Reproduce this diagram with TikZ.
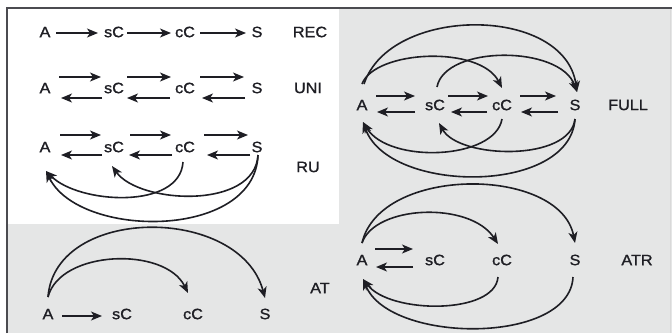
\documentclass[tikz,border=0pt]{standalone}
\usepackage{fontspec}
\setmainfont{Liberation Sans}[FakeStretch=1.08,FakeBold=1.2]
\usetikzlibrary{arrows.meta,calc}
\definecolor{bg}{RGB}{229,230,230}
\definecolor{ink}{RGB}{30,30,36}
\begin{document}
\begin{tikzpicture}[x=1pt,y=-1pt,
  lbl/.style={inner sep=0pt, text=ink, font=\fontsize{15}{17}\selectfont},
  arr/.style={draw=ink, line width=1.6pt, -{Stealth[length=11pt,width=9pt,inset=3pt]}}]
\useasboundingbox (0,0) rectangle (672,333);
\fill[bg] (7,8) rectangle (672,333);
\fill[white] (8,9) rectangle (339,224);
\draw[line width=2pt, ink!80] (7,333) -- (7,8) -- (672,8);
\draw[line width=0.6pt, white!85!black] (670,9) -- (670,333);

% ---------- REC ----------
\node[lbl] (recA)  at (45,32)  {A};
\node[lbl] (recsC) at (114,32) {sC};
\node[lbl] (reccC) at (185,32) {cC};
\node[lbl] (recS)  at (257,32) {S};
\node[lbl] (recL)  at (310,32) {REC};
\draw[arr] ($(recA)+(11,1)$) -- ($(recsC)+(-16,1)$);
\draw[arr] ($(recsC)+(13,1)$) -- ($(reccC)+(-14,1)$);
\draw[arr] ($(reccC)+(15,1)$) -- ($(recS)+(-11,1)$);

% ---------- UNI ----------
\node[lbl] (uniA)  at (45,88)  {A};
\node[lbl] (unisC) at (114,88) {sC};
\node[lbl] (unicC) at (185,88) {cC};
\node[lbl] (uniS)  at (257,88) {S};
\node[lbl] (uniL)  at (308,88) {UNI};
\draw[arr] ($(uniA)+(14,-11)$) -- ($(unisC)+(-13,-11)$);
\draw[arr] ($(unisC)+(-12,10)$) -- ($(uniA)+(16,10)$);
\draw[arr] ($(unisC)+(13,-11)$) -- ($(unicC)+(-14,-11)$);
\draw[arr] ($(unicC)+(-15,10)$) -- ($(unisC)+(13,10)$);
\draw[arr] ($(unicC)+(15,-11)$) -- ($(uniS)+(-13,-11)$);
\draw[arr] ($(uniS)+(-12,10)$) -- ($(unicC)+(17,10)$);

% ---------- RU ----------
\node[lbl] (ruA)  at (45,147)  {A};
\node[lbl] (rusC) at (114,147) {sC};
\node[lbl] (rucC) at (185,147) {cC};
\node[lbl] (ruS)  at (257,147) {S};
\node[lbl] (ruL)  at (308,167) {RU};
\draw[arr] ($(ruA)+(15,-12)$) -- ($(rusC)+(-13,-12)$);
\draw[arr] ($(rusC)+(-12,8)$) -- ($(ruA)+(16,8)$);
\draw[arr] ($(rusC)+(16,-12)$) -- ($(rucC)+(-14,-12)$);
\draw[arr] ($(rucC)+(-13,8)$) -- ($(rusC)+(15,8)$);
\draw[arr] ($(rucC)+(19,-12)$) -- ($(ruS)+(-9,-12)$);
\draw[arr] ($(ruS)+(-7,8)$) -- ($(rucC)+(22,8)$);
\draw[arr] ($(rucC)+(-2,15)$) .. controls +(-3,48) and +(33,33) .. ($(ruA)+(1,24)$);
\draw[arr] ($(ruS)+(1,8)$) .. controls +(-3,55) and +(27,38) .. ($(rusC)+(-2,19)$);
\draw[arr] ($(ruS)+(1,8)$) .. controls +(-3,85) and +(33,68) .. ($(ruA)+(1,24)$);

% ---------- FULL ----------
\node[lbl] (fuA)  at (362,105) {A};
\node[lbl] (fusC) at (435,105) {sC};
\node[lbl] (fucC) at (502,105) {cC};
\node[lbl] (fuS)  at (575,105) {S};
\node[lbl] (fuL)  at (628,105) {FULL};
\draw[arr] ($(fuA)+(14,-9)$) -- ($(fusC)+(-20,-9)$);
\draw[arr] ($(fusC)+(-20,7)$) -- ($(fuA)+(15,7)$);
\draw[arr] ($(fusC)+(13,-9)$) -- ($(fucC)+(-14,-9)$);
\draw[arr] ($(fucC)+(-15,7)$) -- ($(fusC)+(16,7)$);
\draw[arr] ($(fucC)+(18,-9)$) -- ($(fuS)+(-19,-9)$);
\draw[arr] ($(fuS)+(-17,7)$) -- ($(fucC)+(19,7)$);
\draw[arr] ($(fuA)+(2,-21)$) .. controls +(26,-79) and +(-12,-87) .. ($(fuS)+(2,-13)$);
\draw[arr] ($(fuA)+(0,-21)$) .. controls +(13,-34) and +(-22,-43) .. ($(fucC)+(0,-17)$);
\draw[arr] ($(fusC)+(2,-18)$) .. controls +(8,-42) and +(-17,-47) .. ($(fuS)+(2,-13)$);
\draw[arr] ($(fucC)+(0,14)$) .. controls +(-7,41) and +(26,42) .. ($(fuA)+(1,17)$);
\draw[arr] ($(fuS)+(0,14)$) .. controls +(-5,43) and +(20,36) .. ($(fusC)+(4,18)$);
\draw[arr] ($(fuS)+(0,14)$) .. controls +(-5,76) and +(26,72) .. ($(fuA)+(1,17)$);

% ---------- AT ----------
\node[lbl] (atA)  at (48,314)  {A};
\node[lbl] (atsC) at (122,314) {sC};
\node[lbl] (atcC) at (193,314) {cC};
\node[lbl] (atS)  at (265,314) {S};
\node[lbl] (atL)  at (320,288) {AT};
\draw[arr] ($(atA)+(14,2)$) -- ($(atsC)+(-20,2)$);
\draw[arr] ($(atA)+(0,-17)$) .. controls +(7,-92) and +(-25,-93) .. ($(atS)+(0,-16)$);
\draw[arr] ($(atA)+(0,-17)$) .. controls +(12,-47) and +(-23,-47) .. ($(atcC)+(-5,-21)$);

% ---------- ATR ----------
\node[lbl] (trA)  at (362,260) {A};
\node[lbl] (trsC) at (435,260) {sC};
\node[lbl] (trcC) at (502,260) {cC};
\node[lbl] (trS)  at (575,260) {S};
\node[lbl] (trL)  at (637,260) {ATR};
\draw[arr] ($(trA)+(13,-11)$) -- ($(trsC)+(-22,-11)$);
\draw[arr] ($(trsC)+(-22,7)$) -- ($(trA)+(14,7)$);
\draw[arr] ($(trA)+(0,-17)$) .. controls +(18,-78) and +(-15,-77) .. ($(trS)+(0,-17)$);
\draw[arr] ($(trA)+(0,-17)$) .. controls +(13,-38) and +(-28,-43) .. ($(trcC)+(-4,-16)$);
\draw[arr] ($(trcC)+(-4,17)$) .. controls +(-3,38) and +(27,35) .. ($(trA)+(1,19)$);
\draw[arr] ($(trS)+(-2,17)$) .. controls +(-3,68) and +(27,65) .. ($(trA)+(1,19)$);
\end{tikzpicture}
\end{document}
